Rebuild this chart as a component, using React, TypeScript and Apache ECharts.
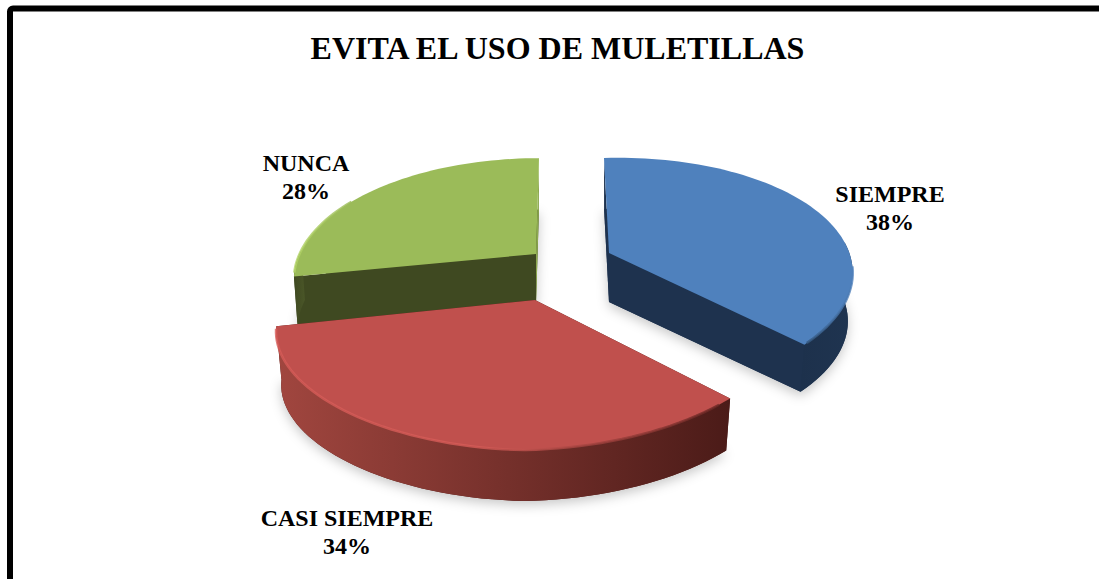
import React, { useEffect, useRef } from "react";
import * as echarts from "echarts";

const titleText = "EVITA EL USO DE MULETILLAS";
const categories = ["SIEMPRE", "CASI SIEMPRE", "NUNCA"];
const shares = [38, 34, 28];

// Drawing layout of each exploded slice (projected disc around its apex).
const layouts = [
  { cx: 609, cy: 253, rx: 237.5, ry: 114, sx: -6, sy: -7, w: 0, h: 49, k: 0.98, lx: 890, ly: 208, z: 1 },
  { cx: 535, cy: 300, rx: 252, ry: 120, sx: 8, sy: -5, w: 12, h: 54, k: 0.98, lx: 347, ly: 532, z: 20 },
  { cx: 536, cy: 254, rx: 236.5, ry: 115, sx: 3.6, sy: 0, w: 0, h: 50, k: 0.985, lx: 306, ly: 177, z: 1 },
];
const topColors = ["#4f81bd", "#c0504d", "#9bbb59"];
const faceColors = ["#1e324e", "#4e1c19", "#3f4921"];
const endFaceColors = ["#1e324e", "#4e1c19", "#8ca84f"];
const wallStops = [
  ["#1f3450", "#1d314c"],
  ["#a1463f", "#4b1b18"],
  ["#4a5628", "#3f4921"],
];
const bevelStops = [
  ["#4f81bd", "#35587f"],
  ["#d65c58", "#6b2825"],
  ["#b2d465", "#9bbb59"],
];
const bevelRanges = [
  [100, 136],
  [140, 258],
  [261, 300],
];
const P = 0.2;

function pt(l: any, deg: number, bottom = false) {
  const t = (deg * Math.PI) / 180;
  const u = Math.sin(t);
  const v = Math.cos(t);
  const s = 1 / (1 + P * v);
  let x = (l.rx * u + l.sx * v) * s;
  let y = (-l.ry * v + l.sy * u) * s;
  if (u < 0 && v < 0) y -= l.w * u * v;
  if (bottom) {
    x *= l.k;
    y = y * l.k + l.h;
  }
  return [l.cx + x, l.cy + y];
}

function arc(l: any, a: number, b: number, bottom = false) {
  const out: number[][] = [];
  const n = Math.max(8, Math.ceil(Math.abs(b - a) / 2));
  for (let i = 0; i <= n; i++) out.push(pt(l, a + ((b - a) * i) / n, bottom));
  return out;
}

function renderSlice(params: any, api: any) {
  const i = params.dataIndex;
  const total = shares.reduce((p, c) => p + c, 0);
  const before = shares.slice(0, i).reduce((p, c) => p + c, 0);
  const a = (before / total) * 360;
  const b = a + (api.value(0) / total) * 360;
  const l = layouts[i];
  const z2 = l.z;
  const apex = [l.cx, l.cy];
  const apexB = [l.cx, l.cy + l.h];
  const children: any[] = [];

  const whole = [...arc(l, a, b, true), apexB];
  children.push({
    type: "polygon",
    z2,
    shape: { points: whole },
    style: { fill: faceColors[i], shadowBlur: 12, shadowColor: "rgba(0,0,0,0.22)", shadowOffsetY: 4 },
  });
  // cut faces
  const faceA = [apex, pt(l, a), pt(l, a, true), apexB];
  const faceB = [apex, pt(l, b), pt(l, b, true), apexB];
  children.push({ type: "polygon", z2: z2 + 1, shape: { points: faceB }, style: { fill: endFaceColors[i] } });
  children.push({ type: "polygon", z2: z2 + 2, shape: { points: faceA }, style: { fill: faceColors[i] } });
  // outer wall: visible only on the lower half of the rim
  const wa = Math.max(a, 88);
  const wb = Math.min(b, 272);
  if (wb > wa) {
    const wall = [...arc(l, wa, wb), ...arc(l, wb, wa, true)];
    children.push({
      type: "polygon",
      z2: z2 + 3,
      shape: { points: wall },
      style: {
        fill: new echarts.graphic.LinearGradient(i === 1 ? 0 : 1, 0, i === 1 ? 1 : 0, 0, [
          { offset: 0, color: wallStops[i][0] },
          { offset: 1, color: wallStops[i][1] },
        ]),
      },
    });
  }
  // top face
  children.push({
    type: "polygon",
    z2: z2 + 4,
    shape: { points: [apex, ...arc(l, a, b)] },
    style: { fill: topColors[i] },
  });
  // bevel along part of the rim
  children.push({
    type: "polyline",
    z2: z2 + 5,
    shape: { points: arc(l, bevelRanges[i][0], bevelRanges[i][1]) },
    style: {
      stroke: new echarts.graphic.LinearGradient(i === 1 ? 1 : 0, 0, i === 1 ? 0 : 1, 0, [
        { offset: 0, color: bevelStops[i][i === 2 ? 0 : 1] },
        { offset: i === 1 ? 0.55 : 1, color: bevelStops[i][i === 2 ? 1 : 0] },
        { offset: 1, color: bevelStops[i][i === 2 ? 1 : 0] },
      ]),
      lineWidth: 2.5,
      opacity: 0.8,
      fill: "none",
    },
  });
  // label
  children.push({
    type: "text",
    z2: 40,
    x: l.lx,
    y: l.ly,
    style: {
      text: categories[i] + "\n" + api.value(0) + "%",
      align: "center",
      verticalAlign: "middle",
      fontFamily: "'Liberation Serif'",
      fontWeight: "bold",
      fontSize: 24,
      lineHeight: 28,
      fill: "#000",
    },
  });
  return { type: "group", children };
}

export default function App() {
  const ref = useRef<HTMLDivElement>(null);
  useEffect(() => {
    document.body.style.margin = "0";
    const chart = echarts.init(ref.current!, null, { renderer: "svg" });
    chart.setOption({
      animation: false,
      backgroundColor: "#fff",
      title: {
        text: titleText,
        left: 552.5,
        top: 27,
        textAlign: "center",
        textStyle: { fontFamily: "'Liberation Serif'", fontWeight: "bold", fontSize: 32, color: "#000" },
      },
      graphic: [
        {
          type: "rect",
          shape: { x: 10, y: 8.5, width: 1100, height: 600, r: 3 },
          style: { fill: "none", stroke: "#000", lineWidth: 6 },
          silent: true,
        },
      ],
      series: [
        {
          type: "custom",
          coordinateSystem: "none",
          renderItem: renderSlice,
          data: shares.map((v, i) => ({ name: categories[i], value: [v] })),
          silent: true,
        },
      ],
    });
    return () => chart.dispose();
  }, []);
  return <div ref={ref} style={{ width: 1099, height: 579 }} />;
}
